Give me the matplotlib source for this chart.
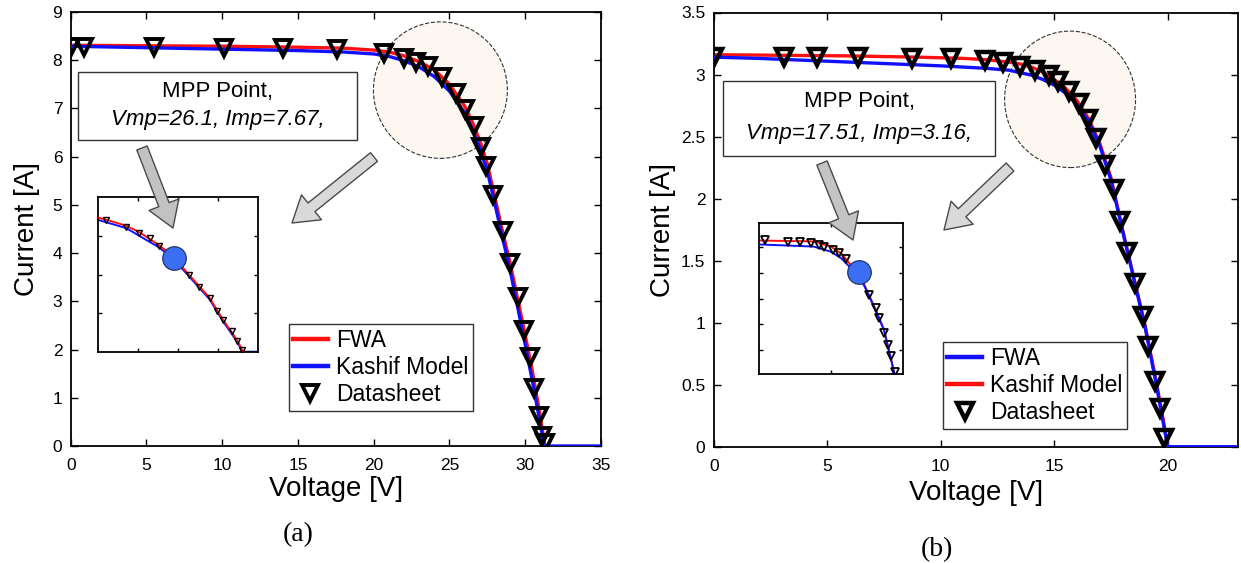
import matplotlib
matplotlib.use("Agg")
import matplotlib.pyplot as plt
from matplotlib.patches import Ellipse, Rectangle, FancyArrowPatch

plt.rcParams['font.family'] = ['Liberation Sans', 'DejaVu Sans']

# ---- panel (a) ----
a_v_fwa = [0, 5, 10, 15, 18, 20, 21, 22, 23, 24, 25, 26, 26.5, 27, 27.5, 28, 28.5, 29, 29.5, 30, 30.5, 31, 31.3]
a_i_fwa = [8.31, 8.30, 8.29, 8.27, 8.25, 8.21, 8.17, 8.09, 7.97, 7.80, 7.50, 7.05, 6.72, 6.33, 5.85, 5.15, 4.45, 3.80, 3.05, 2.30, 1.50, 0.60, 0.0]
a_v_kashif = [0, 5, 10, 15, 18, 20, 21, 22, 23, 24, 25, 26, 26.5, 27, 27.5, 28, 28.5, 29, 29.5, 30, 30.5, 31, 31.25, 35]
a_i_kashif = [8.29, 8.26, 8.23, 8.20, 8.17, 8.13, 8.08, 7.99, 7.86, 7.66, 7.36, 6.91, 6.58, 6.18, 5.70, 5.02, 4.32, 3.65, 2.88, 2.10, 1.30, 0.45, 0.0, 0.0]
a_v_data = [0.0, 0.9, 5.5, 10.1, 14.0, 17.6, 20.7, 22.0, 22.8, 23.6, 24.5, 25.4, 26.0, 26.6, 27.1, 27.4,
            27.9, 28.5, 29.0, 29.5, 29.9, 30.3, 30.6, 30.9, 31.1, 31.3]
a_i_data = [8.27, 8.28, 8.27, 8.26, 8.25, 8.23, 8.14, 8.05, 7.97, 7.88, 7.66, 7.32, 6.98, 6.64, 6.21, 5.81,
            5.20, 4.45, 3.80, 3.08, 2.41, 1.85, 1.21, 0.62, 0.21, 0.07]
# zoomed knee around the maximum power point
a_zv_fwa = [24.20, 24.42, 24.92, 25.24, 25.74, 26.10, 26.48, 27.00, 27.33, 27.69, 27.84]
a_zi_fwa = [8.19, 8.16, 8.08, 8.00, 7.83, 7.68, 7.45, 7.15, 6.87, 6.60, 6.45]
a_zv_kashif = [24.20, 24.92, 25.74, 26.10, 26.48, 27.00, 27.33, 27.69, 27.82, 28.20]
a_zi_kashif = [8.16, 8.05, 7.80, 7.65, 7.43, 7.13, 6.85, 6.58, 6.45, 6.45]
a_zv_data = [24.42, 24.92, 25.24, 25.50, 25.74, 26.48, 26.74, 27.00, 27.19, 27.33, 27.55, 27.69, 27.82]
a_zi_data = [8.15, 8.07, 7.99, 7.92, 7.82, 7.44, 7.29, 7.14, 6.98, 6.86, 6.72, 6.59, 6.47]
a_vmp, a_imp = 26.1, 7.67

# ---- panel (b) ----
b_v_fwa = [0, 2, 4, 6, 8, 10, 12, 13, 14, 14.5, 15, 15.5, 16, 16.5, 17, 17.5, 18, 18.5, 19, 19.5, 19.8, 20.0, 23.1]
b_i_fwa = [3.14, 3.13, 3.115, 3.10, 3.085, 3.07, 3.05, 3.035, 2.995, 2.96, 2.915, 2.85, 2.76, 2.63, 2.43, 2.15,
           1.75, 1.36, 0.97, 0.50, 0.20, 0.0, 0.0]
b_v_kashif = [0, 3, 6, 9, 11, 12, 13, 13.5, 14, 14.5, 15, 15.5, 16, 16.5, 17, 17.5, 18, 18.5, 19, 19.5, 19.8, 20.0]
b_i_kashif = [3.16, 3.155, 3.15, 3.14, 3.13, 3.12, 3.10, 3.085, 3.06, 3.02, 2.96, 2.89, 2.79, 2.65, 2.45, 2.17,
              1.76, 1.37, 0.98, 0.52, 0.22, 0.0]
b_v_data = [0.0, 3.1, 4.55, 6.35, 8.75, 10.45, 11.95, 12.75, 13.5, 14.15, 14.75, 15.15, 15.65, 16.1, 16.5,
            16.85, 17.25, 17.65, 17.9, 18.2, 18.55, 18.9, 19.15, 19.45, 19.65, 19.85]
b_i_data = [3.14, 3.14, 3.14, 3.14, 3.13, 3.13, 3.12, 3.10, 3.07, 3.04, 3.00, 2.95, 2.87, 2.77, 2.64,
            2.49, 2.27, 2.08, 1.82, 1.57, 1.32, 1.05, 0.81, 0.53, 0.31, 0.07]
b_zv_kashif = [14.75, 16.26, 16.74, 17.03, 17.31, 17.51, 17.70, 17.99, 18.22, 18.51]
b_zi_kashif = [3.263, 3.260, 3.243, 3.220, 3.180, 3.158, 3.109, 3.033, 2.967, 2.820]
b_zv_fwa = [14.75, 16.26, 16.74, 17.03, 17.31, 17.51, 17.70, 17.99, 18.22, 18.51]
b_zi_fwa = [3.250, 3.243, 3.226, 3.204, 3.170, 3.150, 3.105, 3.030, 2.965, 2.820]
b_zv_data = [14.92, 15.55, 15.88, 16.19, 16.41, 16.55, 16.79, 16.98, 17.17, 17.79, 17.99, 18.08, 18.22,
             18.32, 18.41, 18.51]
b_zi_data = [3.265, 3.259, 3.257, 3.254, 3.249, 3.243, 3.232, 3.220, 3.201, 3.083, 3.039, 3.006, 2.956,
             2.917, 2.879, 2.826]
b_vmp, b_imp = 17.51, 3.16

W, H = 1241, 563
fig = plt.figure(figsize=(W / 100, H / 100), dpi=100)


def rect(x0, y0, x1, y1):
    # pixel box (top-left origin) -> figure fraction
    return [x0 / W, 1 - y1 / H, (x1 - x0) / W, (y1 - y0) / H]


def fpt(x, y):
    return (x / W, 1 - y / H)


def style_axes(ax, labels=True):
    ax.tick_params(direction='in', top=True, right=True, length=5, width=1,
                   labelsize=12.5, pad=9)
    ax.tick_params(axis='y', pad=6)
    for s in ax.spines.values():
        s.set_linewidth(1.3)
    if not labels:
        ax.set_xticklabels([])
        ax.set_yticklabels([])


def tri(ax, v, i, ms, mew, z=5):
    return ax.plot(v, i, linestyle='none', marker='v', ms=ms, mfc='none',
                   mec='black', mew=mew, zorder=z)[0]


def mpp_box(x0, y0, x1, y1, vmp, imp):
    fig.patches.append(Rectangle(fpt(x0, y1), (x1 - x0) / W, (y1 - y0) / H,
                                 transform=fig.transFigure, fc='white', ec='#333333', lw=1, zorder=6))
    cx = (x0 + x1) / 2
    fig.text(*fpt(cx, y0 + (y1 - y0) * 0.28), 'MPP Point,', ha='center', va='center',
             fontsize=16, zorder=7)
    fig.text(*fpt(cx, y0 + (y1 - y0) * 0.70), f'Vmp={vmp}, Imp={imp},', ha='center',
             va='center', fontsize=16, style='italic', zorder=7)


def block_arrow(p0, p1, fc):
    fig.patches.append(FancyArrowPatch(fpt(*p0), fpt(*p1), transform=fig.transFigure,
                                       arrowstyle='simple,head_length=1.8,head_width=2.3,tail_width=0.8',
                                       mutation_scale=10, fc=fc, ec='#4a4a4a', lw=1,
                                       shrinkA=0, shrinkB=0, zorder=6))


def add_legend(ax, handles, anchor):
    leg = ax.legend(handles, ['FWA', 'Kashif Model', 'Datasheet'], loc='lower left',
                    bbox_to_anchor=anchor, fontsize=16.5, frameon=True, fancybox=False,
                    borderpad=0.2, labelspacing=0.18, handlelength=1.5, handletextpad=0.35,
                    borderaxespad=0)
    leg.get_frame().set_edgecolor('black')
    leg.get_frame().set_linewidth(1)
    leg.set_zorder(8)
    for ln in leg.get_lines()[:2]:
        ln.set_linewidth(3.2)
    return leg


# ================= (a) =================
ax1 = fig.add_axes(rect(70.7, 12, 601, 446))
ax1.add_patch(Ellipse((24.4, 7.38), 8.84, 2.83, fc='#fdf7f2', ec='#333333', ls='--', lw=0.8, zorder=1))
l_k, = ax1.plot(a_v_kashif, a_i_kashif, color='#1010ff', lw=2.4, zorder=3)
l_f, = ax1.plot(a_v_fwa, a_i_fwa, color='#ff1010', lw=2.4, zorder=2)
l_d = tri(ax1, a_v_data, a_i_data, 11.5, 2.8)
ax1.set_xlim(0, 35)
ax1.set_ylim(0, 9)
ax1.set_xticks(range(0, 36, 5))
ax1.set_yticks(range(0, 10))
style_axes(ax1)
ax1.set_xlabel('Voltage [V]', fontsize=20, labelpad=2)
ax1.set_ylabel('Current [A]', fontsize=20, labelpad=9)
add_legend(ax1, [l_f, l_k, l_d], (0.411, 0.081))

ia = fig.add_axes(rect(97.5, 197.3, 257.5, 351.7))
ia.plot(a_zv_kashif, a_zi_kashif, color='#1010ff', lw=1.4, zorder=2)
ia.plot(a_zv_fwa, a_zi_fwa, color='#ff1010', lw=1.4, zorder=3)
tri(ia, a_zv_data, a_zi_data, 5, 1)
ia.plot([a_vmp], [a_imp], marker='o', ms=17, mfc='#3b6ef2', mec='#1a2a60', mew=0.8, zorder=6)
ia.set_xlim(24.2, 28.2)
ia.set_ylim(6.45, 8.45)
ia.set_xticks([25.2, 26.2, 27.2])
ia.set_yticks([6.95, 7.45, 7.95])
style_axes(ia, labels=False)
ia.tick_params(length=3)

mpp_box(78, 72, 357, 140, a_vmp, a_imp)
block_arrow((142, 148), (173, 228), '#c2c2c2')
block_arrow((374, 157), (292, 223), '#d9d9d9')
fig.text(*fpt(298, 535), '(a)', family=['Liberation Serif'], fontsize=20, ha='center', va='center')

# ================= (b) =================
ax2 = fig.add_axes(rect(713.8, 12.5, 1238, 446.7))
ax2.add_patch(Ellipse((15.7, 2.8), 5.77, 1.1, fc='#fdf7f2', ec='#333333', ls='--', lw=0.8, zorder=1))
m_k, = ax2.plot(b_v_kashif, b_i_kashif, color='#ff1010', lw=2.4, zorder=2)
m_f, = ax2.plot(b_v_fwa, b_i_fwa, color='#1010ff', lw=2.4, zorder=3)
m_d = tri(ax2, b_v_data, b_i_data, 12, 3.2)
ax2.set_xlim(0, 23.1)
ax2.set_ylim(0, 3.5)
ax2.set_xticks(range(0, 21, 5))
ax2.set_yticks([0, 0.5, 1, 1.5, 2, 2.5, 3, 3.5])
ax2.set_yticklabels(['0', '0.5', '1', '1.5', '2', '2.5', '3', '3.5'])
style_axes(ax2)
ax2.set_xlabel('Voltage [V]', fontsize=20, labelpad=4)
ax2.set_ylabel('Current [A]', fontsize=20, labelpad=4)
add_legend(ax2, [m_f, m_k, m_d], (0.437, 0.041))

ib = fig.add_axes(rect(759.2, 223.3, 903.2, 374.3))
ib.plot(b_zv_kashif, b_zi_kashif, color='#ff1010', lw=1.4, zorder=2)
ib.plot(b_zv_fwa, b_zi_fwa, color='#1010ff', lw=1.4, zorder=3)
tri(ib, b_zv_data, b_zi_data, 5.5, 1.3)
ib.plot([b_vmp], [b_imp], marker='o', ms=17, mfc='#3b6ef2', mec='#1a2a60', mew=0.8, zorder=6)
ib.set_xlim(14.75, 18.75)
ib.set_ylim(2.82, 3.32)
ib.set_xticks([16.75])
ib.set_yticks([2.9, 2.985, 3.07, 3.155, 3.24])
style_axes(ib, labels=False)
ib.tick_params(length=3)

mpp_box(723, 81, 995, 156, b_vmp, b_imp)
block_arrow((822, 163), (853, 240), '#c4c4c4')
block_arrow((1010, 167), (944, 230), '#d9d9d9')
fig.text(*fpt(937, 550), '(b)', family=['Liberation Serif'], fontsize=20, ha='center', va='center')

fig.savefig('out.png', dpi=100)
